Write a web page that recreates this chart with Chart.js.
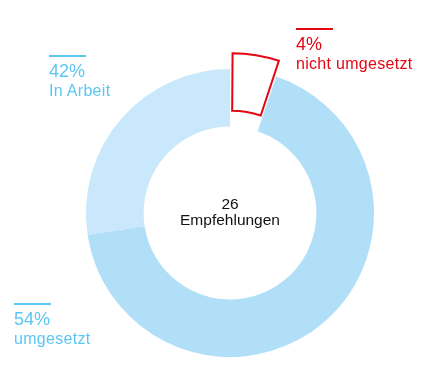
<!DOCTYPE html>
<html lang="de">
<head>
<meta charset="UTF-8">
<title>Empfehlungen</title>
<script src="https://cdn.jsdelivr.net/npm/chart.js"></script>
<style>
  html, body { margin: 0; padding: 0; background: #fff; }
  body { width: 443px; height: 369px; position: relative; overflow: hidden; font-family: "Liberation Sans", Arial, sans-serif; }
  #wrap { position: absolute; left: 0; top: 0; width: 443px; height: 369px; }
  .lbl { position: absolute; white-space: nowrap; line-height: 1; }
  .lbl .rule { position: absolute; left: 0; height: 2px; }
  .lbl .pct { display: block; font-size: 18px; }
  .lbl .name { display: block; font-size: 16px; letter-spacing: 0.3px; margin-top: 3px; }
  #center { position: absolute; left: 130px; width: 200px; top: 196px; text-align: center; font-size: 15.5px; line-height: 16.3px; color: #111; }
</style>
</head>
<body>
<div id="wrap"><canvas id="chart" width="443" height="369"></canvas></div>
<div id="center"></div>
<script>
// data
const categories = ["nicht umgesetzt", "umgesetzt", "In Arbeit"];
const arcShares = [5.2, 67.4, 27.4];          // size of the drawn arcs
const percentLabels = ["4%", "54%", "42%"];   // printed labels
const totalCount = 26;
const totalLabel = "Empfehlungen";

const fillColors = ["#ffffff", "#b1dff8", "#c9e8fb"];
const lineColors = ["#e30613", "#b1dff8", "#c9e8fb"];
const textColors = ["#e30613", "#5cc6f2", "#5cc6f2"];
// label boxes: left, top of the percent line, rule length
const labelPos = [
  { x: 296, y: 35, rule: 37 },
  { x: 14, y: 310, rule: 37 },
  { x: 49, y: 62, rule: 37 }
];

categories.forEach((cat, i) => {
  const el = document.createElement("div");
  el.className = "lbl";
  el.style.left = labelPos[i].x + "px";
  el.style.top = labelPos[i].y + "px";
  el.style.color = textColors[i];
  el.innerHTML =
    '<span class="rule" style="top:-7px;width:' + labelPos[i].rule + 'px;background:' + textColors[i] + '"></span>' +
    '<span class="pct">' + percentLabels[i] + '</span>' +
    '<span class="name">' + cat + '</span>';
  document.body.appendChild(el);
});
document.getElementById("center").innerHTML = totalCount + "<br>" + totalLabel;

new Chart(document.getElementById("chart"), {
  type: "doughnut",
  data: {
    labels: categories,
    datasets: [{
      data: arcShares,
      backgroundColor: fillColors,
      borderColor: lineColors,
      borderWidth: [2, 0, 0],
      hoverBorderWidth: [2, 0, 0],
      borderJoinStyle: "miter",
      offset: [38, 0, 0],
      hoverOffset: 0
    }]
  },
  options: {
    responsive: false,
    animation: false,
    radius: 144,
    cutout: "60%",
    layout: { padding: { left: 77, right: 60, top: 60, bottom: 3 } },
    events: [],
    plugins: {
      legend: { display: false },
      tooltip: { enabled: false }
    }
  }
});
</script>
</body>
</html>
